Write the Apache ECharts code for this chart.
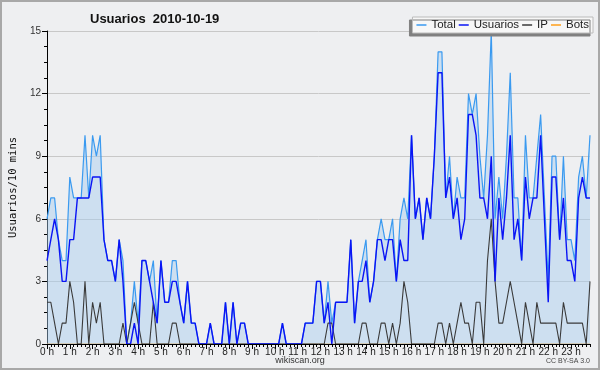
<!DOCTYPE html>
<html>
<head>
<meta charset="utf-8">
<script src="https://cdn.jsdelivr.net/npm/echarts@6/dist/echarts.min.js"></script>
<style>
html,body{margin:0;padding:0;background:#eeeff1;}
#chart{width:600px;height:370px;}
</style>
</head>
<body>
<div id="chart"></div>
<script>
// Hour tick labels
const hourLabels = ['0 h','1 h','2 h','3 h','4 h','5 h','6 h','7 h','8 h','9 h','10 h','11 h','12 h','13 h','14 h','15 h','16 h','17 h','18 h','19 h','20 h','21 h','22 h','23 h'];
const minuteSteps = ['00','10','20','30','40','50'];
// 10-minute slots (categories)
const slots = [];
for (let h = 0; h < hourLabels.length; h++) {
  for (let m = 0; m < minuteSteps.length; m++) slots.push(h + ':' + minuteSteps[m]);
}
const yTicks = [0, 3, 6, 9, 12, 15];

// Series values (per 10 minutes)
const total = [
  6,7,7,5,4,4,8,7,7,7,10,7,10,9,10,5,4,4,3,5,4,0,1,3,1,4,4,3,4,1,4,2,2,4,4,2,
  1,3,1,1,0,0,0,1,0,0,0,2,0,2,0,1,1,0,0,0,0,0,0,0,0,0,1,0,0,0,0,0,1,1,1,
  3,3,1,3,1,2,2,2,2,5,1,3,4,5,2,3,5,6,5,5,6,3,6,7,6,10,6,7,5,7,6,
  9,14,14,7,9,6,8,7,7,12,11,12,9,7,10,
  15,6,8,6,9,13,7,7,4,10,7,7,9,11,7,3,9,9,5,9,5,5,4,8,9,7,10
];
const usuarios = [
  4,5,6,5,3,3,5,5,7,7,7,7,8,8,8,5,4,4,3,5,3,0,0,1,0,4,4,3,2,1,4,2,2,3,3,2,
  1,3,1,1,0,0,0,1,0,0,0,2,0,2,0,1,1,0,0,0,0,0,0,0,0,0,1,0,0,0,0,0,1,1,1,
  3,3,1,2,0,2,2,2,2,5,1,3,3,4,2,3,5,5,4,5,5,3,5,4,4,10,6,7,5,7,6,
  9,13,13,7,8,6,7,5,6,11,11,10,7,7,6,
  9,3,7,5,7,10,5,6,4,8,6,7,7,10,6,2,8,8,5,7,4,4,3,7,8,7,7
];
const ip = [
  2,2,1,0,1,1,3,2,0,0,3,0,2,1,2,0,0,0,0,0,1,0,1,2,1,0,0,0,2,0,0,0,0,1,1,0,
  0,0,0,0,0,0,0,0,0,0,0,0,0,0,0,0,0,0,0,0,0,0,0,0,0,0,0,0,0,0,0,0,0,0,0,
  0,0,0,1,1,0,0,0,0,0,0,0,1,1,0,0,0,1,1,0,1,0,1,3,2,0,0,0,0,0,0,
  0,1,1,0,1,0,1,2,1,1,0,2,2,0,4,
  6,3,1,1,2,3,2,1,0,2,1,0,2,1,1,1,1,1,0,2,1,1,1,1,1,0,3
];
const bots = [
  0,0,0,0,0,0,0,0,0,0,0,0,0,0,0,0,0,0,0,0,0,0,0,0,0,0,0,0,0,0,0,0,0,0,0,0,
  0,0,0,0,0,0,0,0,0,0,0,0,0,0,0,0,0,0,0,0,0,0,0,0,0,0,0,0,0,0,0,0,0,0,0,
  0,0,0,0,0,0,0,0,0,0,0,0,0,0,0,0,0,0,0,0,0,0,0,0,0,0,0,0,0,0,0,
  0,0,0,0,0,0,0,0,0,0,0,0,0,0,0,
  0,0,0,0,0,0,0,0,0,0,0,0,0,0,0,0,0,0,0,0,0,0,0,0,0,0,0
];

const chart = echarts.init(document.getElementById('chart'), null, {renderer: 'canvas'});
const labelFont = 'Liberation Sans';
chart.setOption({
  animation: false,
  backgroundColor: '#eeeff1',
  title: {
    text: 'Usuarios  2010-10-19',
    left: 85, top: 8,
    textStyle: {fontFamily: labelFont, fontWeight: 'bold', fontSize: 13, color: '#111'}
  },
  legend: {
    right: 7, top: 17,
    icon: 'rect', itemWidth: 10, itemHeight: 1.5, itemGap: 3,
    padding: [2, 4],
    backgroundColor: '#f7f7f7', borderColor: '#bbb', borderWidth: 1,
    shadowColor: '#808080', shadowBlur: 0, shadowOffsetX: -3, shadowOffsetY: 3,
    textStyle: {fontFamily: labelFont, fontSize: 11.5, color: '#222'},
    data: ['Total', 'Usuarios', 'IP', 'Bots']
  },
  grid: {left: 46, right: 10, top: 31, bottom: 26},
  xAxis: [{
    type: 'category', data: slots, boundaryGap: false, z: 10,
    axisLine: {lineStyle: {color: '#000', width: 1}},
    axisTick: {show: true, interval: 0, length: 3, lineStyle: {color: '#000'}},
    axisLabel: {
      interval: 5, margin: 3, fontFamily: labelFont, fontSize: 10, color: '#222',
      formatter: function (v, i) { return hourLabels[Math.floor(i / 6)]; }
    },
    splitLine: {show: false}
  }, {
    type: 'category', data: slots, boundaryGap: false, position: 'bottom', z: 10,
    axisLine: {show: false},
    axisTick: {show: true, interval: 5, length: 5, lineStyle: {color: '#000'}},
    axisLabel: {show: false}, splitLine: {show: false}
  }],
  yAxis: {
    type: 'value', min: yTicks[0], max: yTicks[yTicks.length - 1], interval: 3,
    name: 'Usuarios/10 mins', nameLocation: 'middle', nameGap: 28,
    nameTextStyle: {fontFamily: 'DejaVu Sans Mono', fontSize: 10.5, color: '#111'},
    axisLine: {show: true, lineStyle: {color: '#000'}},
    axisTick: {show: true, length: 5, lineStyle: {color: '#000'}},
    minorTick: {show: true, splitNumber: 4, length: 3, lineStyle: {color: '#000'}},
    axisLabel: {margin: 6, fontFamily: labelFont, fontSize: 10, color: '#333'},
    splitLine: {show: true, lineStyle: {color: '#c8c8c8', width: 1}}
  },
  series: [{
    name: 'Total', type: 'line', data: total, showSymbol: false, z: 2,
    lineStyle: {color: '#3a9af0', width: 1.2}, itemStyle: {color: '#3a9af0'},
    areaStyle: {color: 'rgba(165,204,239,0.65)'}
  }, {
    name: 'Usuarios', type: 'line', data: usuarios, showSymbol: false, z: 4,
    lineStyle: {color: '#0a14f5', width: 1.4}, itemStyle: {color: '#0a14f5'}
  }, {
    name: 'IP', type: 'line', data: ip, showSymbol: false, z: 3,
    lineStyle: {color: '#3a3a3a', width: 1.1}, itemStyle: {color: '#3a3a3a'}
  }, {
    name: 'Bots', type: 'line', data: bots, showSymbol: false, z: 1,
    lineStyle: {color: '#ff9f1a', width: 1}, itemStyle: {color: '#ff9f1a'}
  }],
  graphic: [{
    type: 'rect', z: 100, silent: true,
    shape: {x: 1, y: 1, width: 598, height: 368},
    style: {fill: 'none', stroke: '#a8a8a8', lineWidth: 2}
  }, {
    type: 'text', left: 'center', top: 356,
    style: {text: 'wikiscan.org', font: '9px "Liberation Sans"', fill: '#333'}
  }, {
    type: 'text', right: 10, top: 358,
    style: {text: 'CC BY-SA 3.0', font: '7px "Liberation Sans"', fill: '#444'}
  }]
});
</script>
</body>
</html>
